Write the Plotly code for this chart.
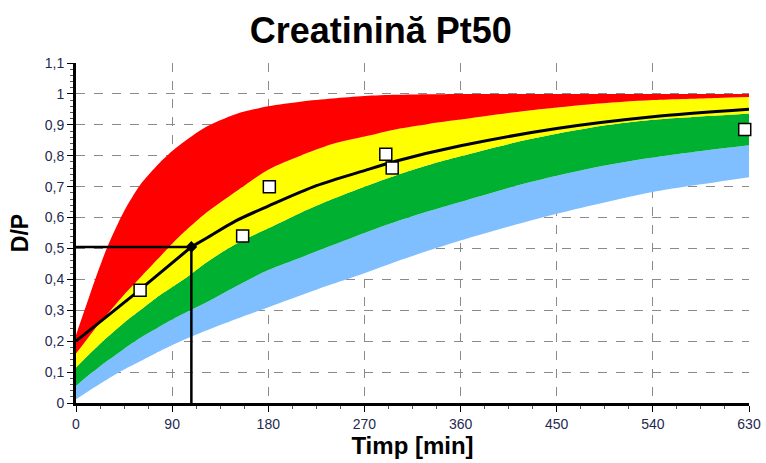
import plotly.graph_objects as go

# Time grid (min) on which the reference bands are tabulated
band_t = [0, 10, 20, 30, 45, 60, 75, 90, 105, 120, 150, 180, 210, 240,
          270, 300, 330, 360, 420, 480, 540, 600, 630]

# Band boundaries (D/P), from lowest to highest
blue_low = [0.012, 0.035, 0.057, 0.078, 0.108, 0.135, 0.162, 0.187, 0.21, 0.232, 0.272, 0.31,
            0.348, 0.385, 0.42, 0.458, 0.493, 0.526, 0.585, 0.637, 0.683, 0.715, 0.73]
blue_high = [0.055, 0.085, 0.112, 0.138, 0.175, 0.21, 0.24, 0.27, 0.297, 0.322, 0.378, 0.43,
             0.47, 0.51, 0.55, 0.587, 0.62, 0.65, 0.71, 0.758, 0.794, 0.822, 0.834]
green_high = [0.115, 0.15, 0.183, 0.215, 0.26, 0.30, 0.34, 0.375, 0.41, 0.45, 0.515, 0.565,
              0.615, 0.66, 0.70, 0.737, 0.77, 0.798, 0.85, 0.89, 0.916, 0.93, 0.937]
yellow_high = [0.16, 0.205, 0.25, 0.29, 0.35, 0.405, 0.46, 0.515, 0.565, 0.61, 0.685, 0.755,
               0.80, 0.838, 0.862, 0.886, 0.903, 0.917, 0.945, 0.966, 0.98, 0.987, 0.99]
red_high = [0.22, 0.32, 0.42, 0.51, 0.62, 0.705, 0.765, 0.815, 0.855, 0.89, 0.935, 0.96,
            0.975, 0.985, 0.993, 0.997, 0.999, 1.0, 1.0, 1.0, 1.0, 1.0, 1.0]

# Patient curve
curve_t = [0, 54, 108, 122, 150, 180, 225, 270, 300, 360, 450, 540, 630]
curve_dp = [0.2, 0.35, 0.505, 0.533, 0.59, 0.637, 0.703, 0.752, 0.783, 0.832, 0.888, 0.926, 0.95]

# Measured samples
sample_t = [60, 156, 181, 290, 296, 626]
sample_dp = [0.365, 0.54, 0.70, 0.805, 0.76, 0.885]

# Reading point (time, D/P)
read_t = 108
read_dp = 0.505

x_ticks = [0, 90, 180, 270, 360, 450, 540, 630]
y_ticks = [0, 0.1, 0.2, 0.3, 0.4, 0.5, 0.6, 0.7, 0.8, 0.9, 1.0, 1.1]
y_labels = ["0", "0,1", "0,2", "0,3", "0,4", "0,5", "0,6", "0,7", "0,8", "0,9", "1", "1,1"]

FONT = "Arial, Liberation Sans, sans-serif"
TICK_COLOR = "#1F2A50"

fig = go.Figure()

band_layers = [
    (blue_low, None),
    (blue_high, "#80BFFF"),
    (green_high, "#00B030"),
    (yellow_high, "#FFFF00"),
    (red_high, "#FF0000"),
]
for vals, color in band_layers:
    fig.add_trace(go.Scatter(
        x=band_t, y=vals, mode="lines",
        line=dict(width=0, color=color or "rgba(0,0,0,0)", shape="spline", smoothing=0.8),
        fill="tonexty" if color else None,
        fillcolor=color,
        hoverinfo="skip", showlegend=False,
    ))

# Cross-hair to the reading point
fig.add_trace(go.Scatter(
    x=[0, read_t, read_t], y=[read_dp, read_dp, 0], mode="lines",
    line=dict(color="black", width=2.5), showlegend=False, hoverinfo="skip",
))

# Patient curve: straight up to the reading point, smooth afterwards
fig.add_trace(go.Scatter(
    x=curve_t[:3], y=curve_dp[:3], mode="lines",
    line=dict(color="black", width=3), showlegend=False,
))
fig.add_trace(go.Scatter(
    x=curve_t[2:], y=curve_dp[2:], mode="lines",
    line=dict(color="black", width=3, shape="spline", smoothing=0.8), showlegend=False,
))

fig.add_trace(go.Scatter(
    x=[read_t], y=[read_dp], mode="markers",
    marker=dict(symbol="diamond", size=9, color="black"), showlegend=False,
))

fig.add_trace(go.Scatter(
    x=sample_t, y=sample_dp, mode="markers",
    marker=dict(symbol="square", size=12, color="white",
                line=dict(color="black", width=1.5)),
    cliponaxis=False, showlegend=False,
))

fig.update_layout(
    width=766, height=463,
    margin=dict(l=76, r=17, t=63, b=60, autoexpand=False),
    paper_bgcolor="white", plot_bgcolor="white",
    title=dict(text="Creatinină Pt50", x=0.497, xanchor="center", y=0.935, yanchor="middle",
               font=dict(family=FONT, size=36, color="black", weight="bold")),
    font=dict(family=FONT),
)

fig.update_xaxes(
    range=[0, 630], tickvals=x_ticks, ticktext=[str(v) for v in x_ticks],
    automargin=False,
    showgrid=True, gridcolor="#8a8a8a", griddash="dash", gridwidth=1,
    showline=True, linecolor="black", linewidth=3, mirror=False,
    ticks="outside", ticklen=6, tickcolor="black", tickwidth=1,
    minor=dict(dtick=22.5, ticks="outside", ticklen=3, tickcolor="#555", showgrid=False),
    tickfont=dict(family=FONT, size=14, color=TICK_COLOR),
    title=dict(text="Timp [min]", standoff=5,
               font=dict(family=FONT, size=24, color="black", weight="bold")),
    zeroline=False,
)
fig.update_yaxes(
    range=[0, 1.1], tickvals=y_ticks, ticktext=y_labels,
    automargin=False,
    showgrid=True, gridcolor="#8a8a8a", griddash="dash", gridwidth=1,
    showline=True, linecolor="black", linewidth=3, mirror=False,
    ticks="outside", ticklen=6, tickcolor="black", tickwidth=1,
    minor=dict(dtick=0.02, ticks="outside", ticklen=3, tickcolor="#555", showgrid=False),
    tickfont=dict(family=FONT, size=14, color=TICK_COLOR),
    title=dict(text="D/P", standoff=10,
               font=dict(family=FONT, size=23, color="black", weight="bold")),
    zeroline=False,
)

fig.write_html("out.html")
